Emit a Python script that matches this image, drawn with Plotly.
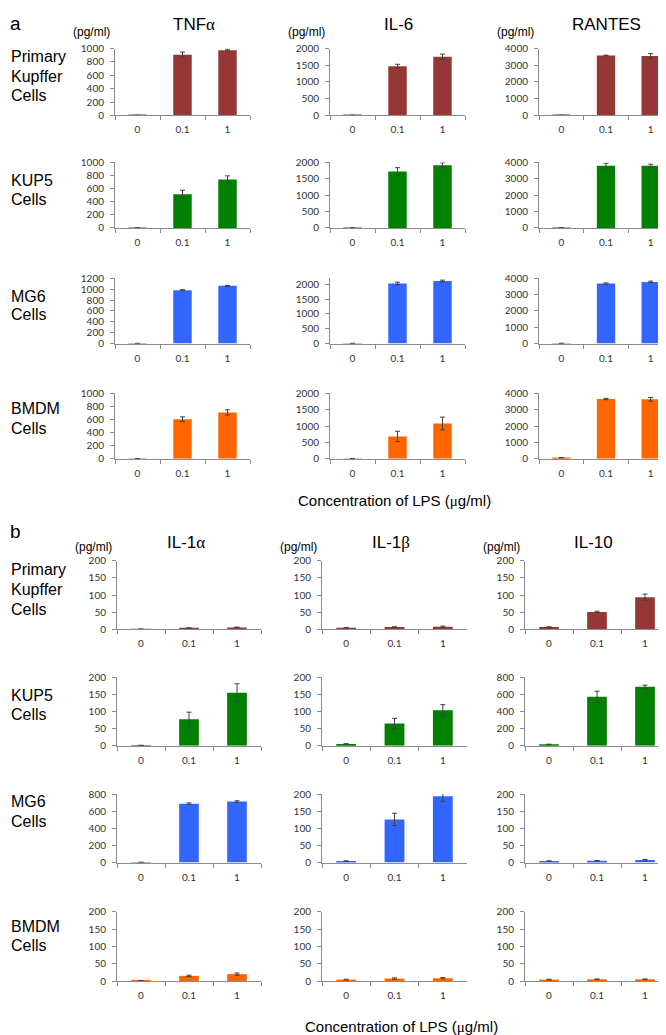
import plotly.graph_objects as go

# ---------------- data ----------------
concentrations = ["0", "0.1", "1"]
cell_types = [["Primary", "Kupffer", "Cells"], ["KUP5", "Cells"], ["MG6", "Cells"], ["BMDM", "Cells"]]
cell_colors = ["#953735", "#008000", "#3366FF", "#FF6600"]

# Panel a cytokines (rows: Primary Kupffer, KUP5, MG6, BMDM)
a_titles = ["TNF<span style='font-family:Liberation Serif'>α</span>", "IL-6", "RANTES"]
tnfa_mean = [[2, 908, 975], [2, 515, 740], [2, 980, 1062], [2, 606, 710]]
tnfa_err = [[0, 40, 15], [0, 60, 55], [0, 12, 8], [0, 35, 40]]
il6_mean = [[5, 1470, 1758], [5, 1720, 1910], [5, 2030, 2110], [5, 680, 1080]]
il6_err = [[0, 60, 75], [0, 120, 80], [0, 40, 30], [0, 160, 195]]
rantes_mean = [[10, 3585, 3550], [10, 3800, 3800], [10, 3680, 3780], [60, 3660, 3640]]
rantes_err = [[5, 20, 150], [5, 150, 90], [5, 40, 50], [10, 40, 110]]
a_ymax = [[1000, 2000, 4000], [1000, 2000, 4000], [1200, 2200, 4000], [1000, 2000, 4000]]
a_ytop = [[1000, 2000, 4000], [1000, 2000, 4000], [1200, 2000, 4000], [1000, 2000, 4000]]
a_dtick = [[200, 500, 1000], [200, 500, 1000], [200, 500, 1000], [200, 500, 1000]]

# Panel b cytokines
b_titles = ["IL-1<span style='font-family:Liberation Serif'>α</span>",
            "IL-1<span style='font-family:Liberation Serif'>β</span>", "IL-10"]
il1a_mean = [[1, 4, 6], [1, 77, 155], [2, 687, 712], [1, 15, 20]]
il1a_err = [[0, 1, 1], [0, 21, 26], [0, 10, 10], [0, 2, 3]]
il1b_mean = [[5, 7, 8], [5, 65, 104], [4, 126, 194], [4, 7, 8]]
il1b_err = [[1, 1, 2], [1, 15, 16], [1, 18, 15], [1, 2, 2]]
il10_mean = [[7, 51, 94], [15, 572, 688], [4, 5, 7], [4, 5, 5]]
il10_err = [[1, 2, 9], [3, 65, 20], [1, 1, 2], [1, 1, 1]]
b_ymax = [[200, 200, 200], [200, 200, 800], [800, 200, 200], [200, 200, 200]]
b_ytop = b_ymax
b_dtick = [[50, 50, 50], [50, 50, 200], [200, 50, 50], [50, 50, 50]]

x_title = "Concentration of LPS (<span style='font-family:Liberation Serif'>μ</span>g/ml)"
unit_label = "(pg/ml)"

# ---------------- layout geometry (pixels) ----------------
W, H = 666, 1035
def X(px):
    return px / W
def Y(py):
    return 1 - py / H

panels = [
    dict(letter="a", letter_y=9, titles=a_titles, title_y=10, unit_y=17,
         means=[tnfa_mean, il6_mean, rantes_mean], errs=[tnfa_err, il6_err, rantes_err],
         ymax=a_ymax, ytop=a_ytop, dtick=a_dtick,
         cols=[(107, 242), (322, 457), (531, 665)],
         title_x=[186, 390, 598],
         rows=[(34, 101.7), (149.3, 215.7), (266.7, 332.7), (383.3, 449.3)],
         label_y=[[42, 62, 81.5], [168, 187], [285, 303], [399, 419]],
         xtitle=(386, 492)),
    dict(letter="b", letter_y=523, titles=b_titles, title_y=534, unit_y=539,
         means=[il1a_mean, il1b_mean, il10_mean], errs=[il1a_err, il1b_err, il10_err],
         ymax=b_ymax, ytop=b_ytop, dtick=b_dtick,
         cols=[(109, 253), (314, 459), (517, 661)],
         title_x=[178, 383, 585],
         rows=[(552.7, 622.3), (670.7, 740), (789, 858.3), (908.3, 978.3)],
         label_y=[[562, 582, 602], [689, 708], [797, 817], [923, 942]],
         xtitle=(393, 1024)),
]

AXIS_COLOR = "#8c8c8c"
TICK_FONT = dict(family="Lato", size=10, color="#333333")
TEXT_FONT = "Liberation Sans"

def note(text, px, py, size, xanchor="left"):
    return dict(text=text, x=X(px), y=Y(py), xref="paper", yref="paper",
                xanchor=xanchor, yanchor="middle", showarrow=False,
                font=dict(family=TEXT_FONT, size=size, color="black"))

fig = go.Figure()
layout = {}
annotations = []
idx = 0
for p in panels:
    annotations.append(note(p["letter"], 0, p["letter_y"], 19))
    for c in range(3):
        annotations.append(note(p["titles"][c], p["title_x"][c], p["title_y"], 17, "center"))
        annotations.append(note(unit_label, p["cols"][c][0] - 3, p["unit_y"], 12, "right"))
    annotations.append(note(x_title, p["xtitle"][0], p["xtitle"][1], 15, "center"))
    for r in range(4):
        for line, ly in zip(cell_types[r], p["label_y"][r]):
            annotations.append(note(line, 1, ly, 16))
        for c in range(3):
            idx += 1
            sfx = "" if idx == 1 else str(idx)
            fig.add_trace(go.Bar(
                x=concentrations, y=p["means"][c][r],
                error_y=dict(type="data", array=p["errs"][c][r], color="#404040", thickness=1, width=2.5),
                marker=dict(color=cell_colors[r], line=dict(width=0)),
                xaxis="x" + sfx, yaxis="y" + sfx, showlegend=False, hoverinfo="skip"))
            x0, x1 = p["cols"][c]
            y0, y1 = p["rows"][r]
            top = p["ytop"][r][c]
            dt = p["dtick"][r][c]
            layout["xaxis" + sfx] = dict(
                domain=[X(x0), X(x1)], anchor="y" + sfx, type="category",
                categoryorder="array", categoryarray=concentrations,
                showline=True, linecolor=AXIS_COLOR, linewidth=1,
                ticks="outside", tickson="boundaries", ticklen=4, tickcolor=AXIS_COLOR,
                tickfont=TICK_FONT, ticklabelstandoff=5, showgrid=False, zeroline=False)
            layout["yaxis" + sfx] = dict(
                domain=[Y(y1), Y(y0)], anchor="x" + sfx, range=[0, p["ymax"][r][c]],
                tickvals=list(range(0, top + 1, dt)),
                showline=True, linecolor=AXIS_COLOR, linewidth=1,
                ticks="outside", ticklen=4, tickcolor=AXIS_COLOR,
                tickfont=TICK_FONT, ticklabelstandoff=4, showgrid=False, zeroline=False)

fig.update_layout(**layout)
fig.update_layout(width=W, height=H, margin=dict(l=0, r=0, t=0, b=0),
                  paper_bgcolor="white", plot_bgcolor="white",
                  bargap=0.59, annotations=annotations, showlegend=False)

fig.write_html("out.html")
